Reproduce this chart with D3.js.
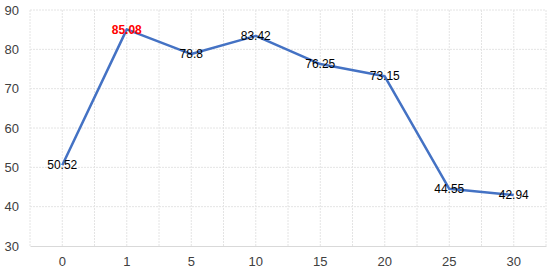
<!DOCTYPE html>
<html>
<head>
<meta charset="utf-8">
<script src="https://cdn.jsdelivr.net/npm/d3@7"></script>
<style>
  body { margin: 0; background: #fff; }
  svg text { font-family: "Liberation Sans", "DejaVu Sans", sans-serif; }
</style>
</head>
<body>
<div id="chart"></div>
<script>
const categories = ['0', '1', '5', '10', '15', '20', '25', '30'];
const values = [50.52, 85.08, 78.8, 83.42, 76.25, 73.15, 44.55, 42.94];
const yTicks = [30, 40, 50, 60, 70, 80, 90];
const highlightIndex = 1;

const W = 554, H = 274;
const margin = { top: 10, right: 8, bottom: 28, left: 30 };
const width = W - margin.left - margin.right;
const height = H - margin.top - margin.bottom;

const svg = d3.select('#chart').append('svg')
  .attr('width', W).attr('height', H);

const g = svg.append('g')
  .attr('transform', `translate(${margin.left},${margin.top})`);

const x = d3.scaleBand().domain(categories).range([0, width]);
const y = d3.scaleLinear().domain([30, 90]).range([height, 0]);

// ---- Gridlines
const gridColor = '#e4e4e4';
yTicks.filter(t => t !== 30).forEach(t => {
  g.append('line')
    .attr('x1', 0).attr('x2', width)
    .attr('y1', y(t)).attr('y2', y(t))
    .attr('stroke', gridColor).attr('stroke-dasharray', '2,1');
});
const vPos = [];
categories.forEach(c => { vPos.push(x(c)); vPos.push(x(c) + x.bandwidth() / 2); });
vPos.push(width);
vPos.forEach(p => {
  g.append('line')
    .attr('x1', p).attr('x2', p)
    .attr('y1', 0).attr('y2', height)
    .attr('stroke', gridColor).attr('stroke-dasharray', '2,1');
});

// ---- Axes
const xAxis = g.append('g')
  .attr('transform', `translate(0,${height})`)
  .call(d3.axisBottom(x).tickSize(0).tickPadding(11));
xAxis.select('.domain').attr('stroke', '#d9d9d9');
xAxis.selectAll('.tick text').attr('fill', '#404040').style('font-size', '13px');

const yAxis = g.append('g')
  .call(d3.axisLeft(y).tickValues(yTicks).tickSize(0).tickPadding(11));
yAxis.select('.domain').remove();
yAxis.selectAll('.tick text').attr('fill', '#404040').style('font-size', '13px');

// ---- Line
const cx = c => x(c) + x.bandwidth() / 2;
const line = d3.line()
  .x((d, i) => cx(categories[i]))
  .y(d => y(d));

g.append('path')
  .datum(values)
  .attr('d', line)
  .attr('fill', 'none')
  .attr('stroke', '#4472c4')
  .attr('stroke-width', 2.5)
  .attr('stroke-linejoin', 'round');

// ---- Labels
g.selectAll('.lbl')
  .data(values)
  .join('text')
  .attr('class', 'lbl')
  .attr('x', (d, i) => cx(categories[i]))
  .attr('y', d => y(d))
  .attr('dy', '0.35em')
  .attr('text-anchor', 'middle')
  .style('font-size', '12px')
  .style('font-weight', (d, i) => i === highlightIndex ? 'bold' : 'normal')
  .attr('fill', (d, i) => i === highlightIndex ? '#ff0000' : '#000')
  .text(d => d);
</script>
</body>
</html>
